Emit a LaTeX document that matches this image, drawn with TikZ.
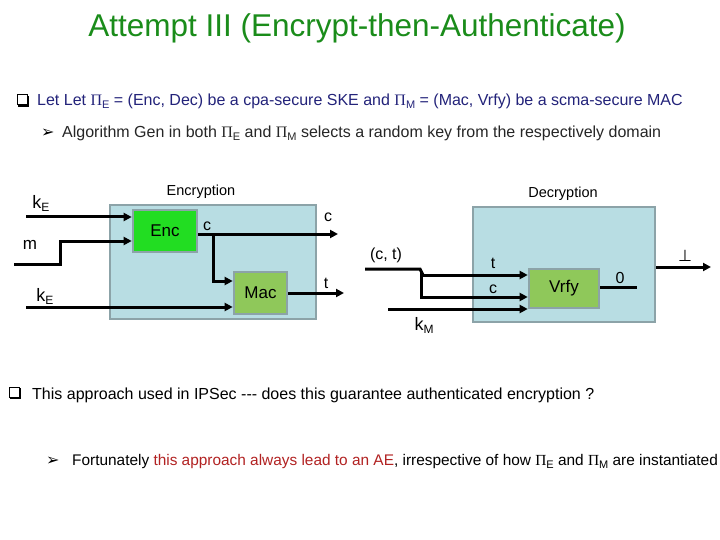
\documentclass[tikz,border=0pt]{standalone}
\usepackage{fontspec}
\setmainfont{Liberation Sans}
\newfontfamily\serifpi{Liberation Serif}
\newfontfamily\dejavu{DejaVu Sans}
\usetikzlibrary{arrows.meta}
\definecolor{titlegreen}{HTML}{1A8C1A}
\definecolor{navytext}{HTML}{23237A}
\definecolor{redtext}{HTML}{B22222}
\definecolor{boxblue}{HTML}{B8DDE3}
\definecolor{boxgray}{HTML}{8CA3A8}
\definecolor{encgreen}{HTML}{22DD22}
\definecolor{macgreen}{HTML}{8FC85A}
\newcommand\mypi[1]{{\serifpi Π}\raisebox{-3pt}{\fontsize{11}{11}\selectfont #1}}
\newcommand\bodyfont{\fontsize{16}{16}\selectfont}
\begin{document}
\begin{tikzpicture}[x=1pt,y=-1pt,
  blk/.style={draw=boxgray, line width=2.6pt, inner sep=0pt},
  wire/.style={line width=3pt, black},
  arr/.style={wire, -{Triangle[length=8pt,width=8pt]}},
  lbl/.style={inner sep=0pt, font=\fontsize{15}{15}\selectfont},
  txt/.style={inner sep=0pt, anchor=base west, font=\bodyfont},
  qbullet/.style={draw=black, line width=1pt, fill=white, minimum size=10pt, inner sep=0pt},
  qshadow/.style={line width=1.8pt, black},
  abullet/.style={inner sep=0pt, anchor=base west, font=\dejavu\fontsize{16}{16}\selectfont}]
\useasboundingbox (0,0) rectangle (720,540);
\fill[white] (0,0) rectangle (720,540);

% title
\node[inner sep=0pt, text=titlegreen, font=\fontsize{31.5}{31.5}\selectfont] (title) at (357,28) {Attempt III (Encrypt-then-Authenticate)};

% bullet lines
\node[qbullet] (q1) at (22,100) {};
\draw[qshadow] ([xshift=1.8pt,yshift=-0.9pt]q1.south west) -- ([xshift=0.9pt,yshift=-0.9pt]q1.south east) -- ([xshift=0.9pt,yshift=-1.8pt]q1.north east);
\node[txt, text=navytext] (l1) at (37,106) {Let Let \mypi{E} = (Enc, Dec) be a cpa-secure SKE and \mypi{M} = (Mac, Vrfy) be a scma-secure MAC};
\node[abullet] (a1) at (41,138) {➢};
\node[txt, text=black!85] (l2) at (62,138) {Algorithm Gen in both \mypi{E} and \mypi{M} selects a random key from the respectively domain};

% encryption side
\node[blk, fill=boxblue, minimum width=206pt, minimum height=114pt] (encbox) at (213,262) {};
\node[inner sep=0pt, font=\fontsize{14.5}{14.5}\selectfont] (enclbl) at (201,192) {Encryption};
\node[blk, fill=encgreen, minimum width=64pt, minimum height=42pt, font=\fontsize{17}{17}\selectfont] (enc) at (165,231) {Enc};
\node[blk, fill=macgreen, minimum width=53pt, minimum height=42pt, font=\fontsize{17}{17}\selectfont] (mac) at (260.5,293) {Mac};

\node[lbl, font=\fontsize{18}{18}\selectfont] (ke1) at (41,203) {k\raisebox{-3pt}{\fontsize{12}{12}\selectfont E}};
\node[lbl, font=\fontsize{17}{17}\selectfont] (mlbl) at (30,245) {m};
\node[lbl, font=\fontsize{18}{18}\selectfont] (ke2) at (45,296) {k\raisebox{-3pt}{\fontsize{12}{12}\selectfont E}};

\coordinate (ke1s) at (26,217);
\coordinate (ms) at (14,264);
\coordinate (ke2s) at (26,307);
\coordinate (cout) at (338,234);
\coordinate (tout) at (344,293);
\coordinate (split) at (213,234);

\draw[arr] (ke1s) -- (ke1s -| enc.west);
\draw[arr] (ms) -- (60,264) -- (60,241) -- (enc.west |- 0,241);
\draw[arr] (ke2s) -- (ke2s -| mac.west);
\draw[arr] (enc.east |- cout) -- (cout);
\draw[arr] (split) -- (213,281) -- (mac.west |- 0,281);
\draw[arr] (mac.east |- tout) -- (tout);
\node[lbl, font=\fontsize{16}{16}\selectfont] (clbl1) at (207,226) {c};
\node[lbl, font=\fontsize{16}{16}\selectfont] (clbl2) at (328,217) {c};
\node[lbl, font=\fontsize{16}{16}\selectfont] (tlbl1) at (326,283) {t};

% decryption side
\node[blk, fill=boxblue, minimum width=182pt, minimum height=115pt] (decbox) at (564,264.5) {};
\node[inner sep=0pt, font=\fontsize{14.5}{14.5}\selectfont] (declbl) at (563,194) {Decryption};
\node[blk, fill=macgreen, minimum width=70pt, minimum height=39pt, font=\fontsize{17}{17}\selectfont] (vrfy) at (564,288.5) {Vrfy};

\coordinate (cts) at (365,269);
\coordinate (ctj) at (420,269);
\coordinate (kms) at (388,309);
\coordinate (zeroend) at (637,287);
\coordinate (botend) at (711,267);

\draw[wire] (cts) -- (ctj) -- (423,275);
\draw[arr] (423,275) -- (vrfy.west |- 0,275);
\draw[arr] (421,272) -- (421,297) -- (vrfy.west |- 0,297);
\draw[arr] (kms) -- (vrfy.west |- kms);
\draw[wire] (vrfy.east |- zeroend) -- (zeroend);
\draw[arr] (decbox.east |- botend) -- (botend);

\node[lbl, font=\fontsize{16}{16}\selectfont] (ctlbl) at (386,255) {(c, t)};
\node[lbl, font=\fontsize{16}{16}\selectfont] (tlbl2) at (493,263) {t};
\node[lbl, font=\fontsize{16}{16}\selectfont] (clbl3) at (493,289) {c};
\node[lbl, font=\fontsize{16}{16}\selectfont] (zlbl) at (620,278) {0};
\node[lbl, font=\dejavu\fontsize{16}{16}\selectfont] (bot) at (685,256) {⊥};
\node[lbl, font=\fontsize{18}{18}\selectfont] (kmlbl) at (424,325) {k\raisebox{-3pt}{\fontsize{12}{12}\selectfont M}};

% bottom text
\node[qbullet] (q2) at (14,392) {};
\draw[qshadow] ([xshift=1.8pt,yshift=-0.9pt]q2.south west) -- ([xshift=0.9pt,yshift=-0.9pt]q2.south east) -- ([xshift=0.9pt,yshift=-1.8pt]q2.north east);
\node[txt, text=black] (l3) at (32,399) {This approach used in IPSec -{}-{}- does this guarantee authenticated encryption ?};
\node[abullet] (a2) at (46,465) {➢};
\node[txt, text=black, font=\fontsize{15.4}{15.4}\selectfont] (l4) at (72,465) {Fortunately \textcolor{redtext}{this approach always lead to an AE}, irrespective of how \mypi{E} and \mypi{M} are instantiated};
\end{tikzpicture}
\end{document}
